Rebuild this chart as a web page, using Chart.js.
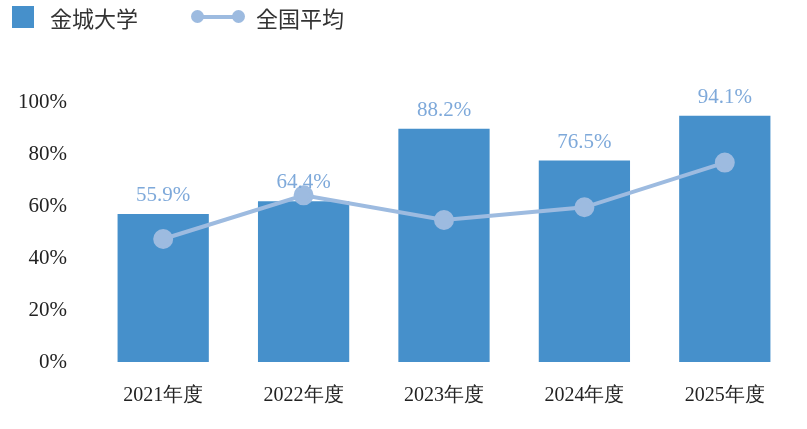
<!DOCTYPE html>
<html><head><meta charset="utf-8">
<script src="https://cdn.jsdelivr.net/npm/chart.js@4/dist/chart.umd.min.js"></script>
<style>
body{margin:0;background:#fff;width:807px;height:429px;overflow:hidden;font-family:"Noto Sans CJK JP";}
#lg{position:absolute;left:12px;top:2px;height:30px;display:flex;align-items:center;font-size:22px;color:#333;}
#wrap{position:absolute;left:0;top:0;width:807px;height:429px;}
</style></head><body>
<div id="wrap"><canvas id="c"></canvas></div>
<div id="lg">
<span style="display:inline-block;width:22px;height:22px;background:#4690cb;margin-right:16px"></span><span>金城大学</span>
<span style="position:relative;display:inline-block;width:48px;height:22px;margin-left:56px;margin-right:14px">
<span style="position:absolute;left:0;right:0;top:9px;height:4px;background:#9dbbe0"></span>
<span style="position:absolute;left:-3px;top:4px;width:13px;height:13px;border-radius:50%;background:#9dbbe0"></span>
<span style="position:absolute;right:-3px;top:4px;width:13px;height:13px;border-radius:50%;background:#9dbbe0"></span></span><span>全国平均</span>
</div>
<script>
const categories=["2021年度","2022年度","2023年度","2024年度","2025年度"];
const univValues=[56.9,61.8,89.7,77.5,94.7];
const univLabels=["55.9%","64.4%","88.2%","76.5%","94.1%"];
const nationalValues=[47.3,64.1,54.6,59.5,76.7];
const yTicks=[0,20,40,60,80,100];
const labelPlugin={id:'lbl',afterDatasetsDraw(ch){const ctx=ch.ctx;const m=ch.getDatasetMeta(1);ctx.save();ctx.font='21px "Liberation Serif"';ctx.fillStyle='#7ea9da';ctx.textAlign='center';ctx.textBaseline='bottom';
m.data.forEach((b,i)=>ctx.fillText(univLabels[i],b.x,b.y-8));ctx.restore();}};
new Chart(document.getElementById('c'),{
data:{labels:categories,datasets:[
{type:'line',data:nationalValues,borderColor:'#9dbbe0',backgroundColor:'#9dbbe0',borderWidth:4,pointRadius:8,pointHoverRadius:8,tension:0,order:0},
{type:'bar',data:univValues,backgroundColor:'#4690cb',barPercentage:0.65,categoryPercentage:1,order:1}]},
options:{responsive:true,maintainAspectRatio:false,animation:false,devicePixelRatio:1,
layout:{padding:{top:102,right:-19,left:0,bottom:7}},
plugins:{legend:{display:false},tooltip:{enabled:false}},
scales:{x:{grid:{display:false},border:{display:false},ticks:{color:'#222',font:{family:'Liberation Serif',size:20},padding:14}},
y:{min:0,max:100,afterBuildTicks:a=>{a.ticks=yTicks.map(v=>({value:v}));},grid:{display:false},border:{display:false},
ticks:{color:'#222',font:{family:'Liberation Serif',size:21},padding:18,callback:v=>v+'%'}}}},
plugins:[labelPlugin]});
</script></body></html>
